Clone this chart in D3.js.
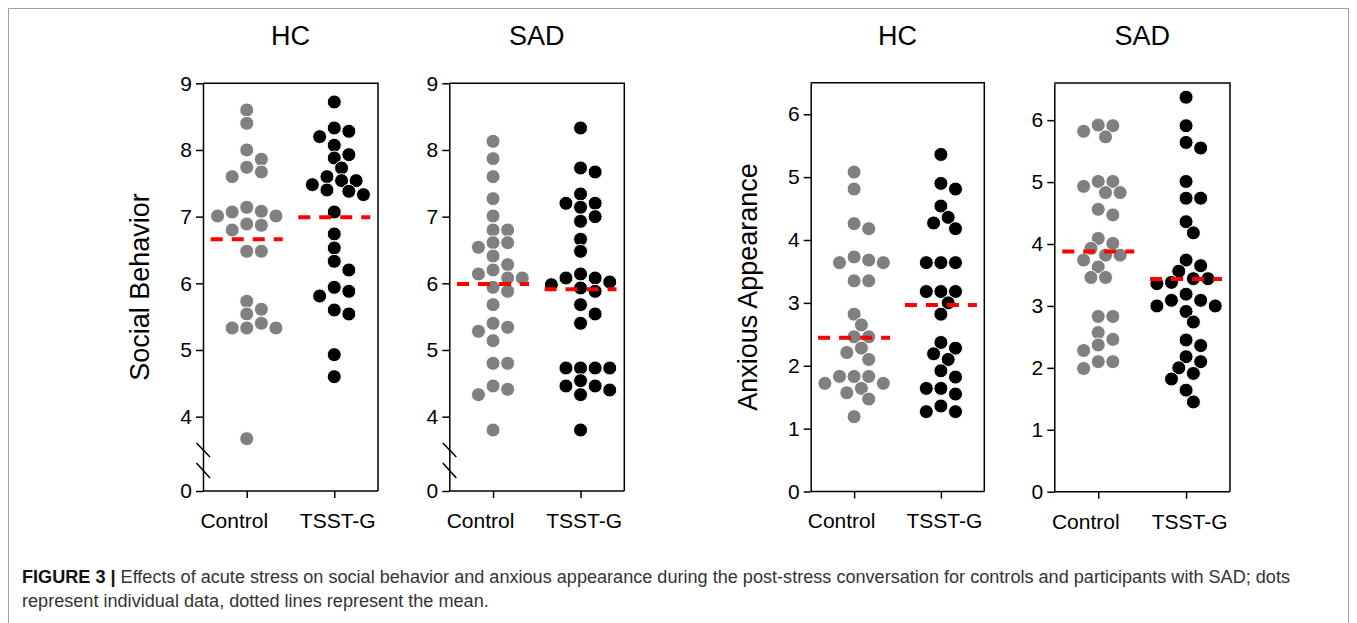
<!DOCTYPE html>
<html>
<head>
<meta charset="utf-8">
<script src="https://cdn.jsdelivr.net/npm/d3@7"></script>
<style>
  body { margin: 0; background: #fff; }
  svg { display: block; font-family: "Liberation Sans", Arial, sans-serif; }
  .axis path, .axis line { stroke: #000; stroke-width: 1.5; }
  .axis text { font-size: 21px; fill: #000; }
</style>
</head>
<body>
<svg id="chart" width="1357" height="623"></svg>
<script>
// category and panel labels
const groups = ["Control", "TSST-G"];
const panelTitles = ["HC", "SAD", "HC", "SAD"];
const measureTitles = ["Social Behavior", "Anxious Appearance"];

// Social behavior, individual values
const socialHcControl = [8.60, 8.40, 8.00, 7.86, 7.74, 7.67, 7.60, 7.14, 7.08, 7.07, 7.01, 7.01,
  6.89, 6.87, 6.80, 6.48, 6.48, 5.73, 5.61, 5.54, 5.40, 5.33, 5.33, 5.33, 3.67];
const socialHcTsst = [8.72, 8.33, 8.28, 8.20, 8.07, 7.93, 7.88, 7.73, 7.60, 7.54, 7.54, 7.48,
  7.40, 7.38, 7.33, 7.07, 6.74, 6.53, 6.33, 6.20, 5.94, 5.88, 5.81, 5.60, 5.54, 4.93, 4.60];
const socialSadControl = [8.13, 7.87, 7.60, 7.27, 7.01, 6.80, 6.80, 6.61, 6.61, 6.54, 6.41, 6.28,
  6.20, 6.14, 6.08, 6.08, 5.94, 5.88, 5.68, 5.40, 5.34, 5.28, 5.14, 4.80, 4.80, 4.46, 4.41, 4.33, 3.80];
const socialSadTsst = [8.33, 7.73, 7.67, 7.34, 7.20, 7.20, 7.14, 7.00, 6.93, 6.66, 6.48, 6.14,
  6.08, 6.08, 6.02, 5.98, 5.93, 5.88, 5.68, 5.54, 5.40, 4.73, 4.73, 4.73, 4.73, 4.54, 4.46, 4.46,
  4.40, 4.33, 3.80];

// Anxious appearance, individual values
const anxHcControl = [5.08, 4.81, 4.26, 4.18, 3.73, 3.68, 3.64, 3.64, 3.35, 3.35, 2.82, 2.65,
  2.46, 2.46, 2.28, 2.21, 2.10, 1.83, 1.83, 1.83, 1.72, 1.72, 1.64, 1.57, 1.47, 1.19];
const anxHcTsst = [5.36, 4.90, 4.81, 4.54, 4.36, 4.27, 4.18, 3.64, 3.64, 3.64, 3.18, 3.18, 3.18,
  3.00, 2.82, 2.37, 2.28, 2.19, 2.10, 1.92, 1.82, 1.64, 1.64, 1.55, 1.36, 1.27, 1.27];
const anxSadControl = [5.92, 5.91, 5.82, 5.73, 5.01, 5.01, 4.93, 4.83, 4.83, 4.56, 4.47, 4.09,
  4.01, 3.93, 3.82, 3.82, 3.74, 3.63, 3.46, 3.46, 2.83, 2.83, 2.57, 2.46, 2.37, 2.28, 2.10, 2.10, 1.99];
const anxSadTsst = [6.37, 5.91, 5.64, 5.55, 5.01, 4.74, 4.74, 4.36, 4.18, 3.74, 3.65, 3.56, 3.44,
  3.44, 3.38, 3.36, 3.19, 3.09, 3.09, 3.00, 3.00, 2.91, 2.74, 2.45, 2.36, 2.18, 2.10, 2.00, 1.91,
  1.82, 1.64, 1.45];

// group means (dashed lines)
const socialHcMeans = [6.66, 6.99];
const socialSadMeans = [5.99, 5.91];
const anxHcMeans = [2.445, 2.965];
const anxSadMeans = [3.877, 3.436];

// y tick values
const socialTicks = [0, 4, 5, 6, 7, 8, 9];
const anxTicks = [0, 1, 2, 3, 4, 5, 6];

const caption1 = " Effects of acute stress on social behavior and anxious appearance during the post-stress conversation for controls and participants with SAD; dots";
const caption2 = "represent individual data, dotted lines represent the mean.";

const svg = d3.select("#chart");
const colors = ["#808080", "#000000"];
const labelShift = [-13, 3]; // prism puts the category labels slightly off-centre
const plotTop = 83.3, plotBottom = 491;
const R = 7;

// broken axis for social behavior: 0 sits just below the break
const socialY = () => d3.scaleLinear().domain([0, 3.2, 9]).range([plotBottom, 470, plotTop]);

const panels = [
  {title: panelTitles[0], left: 203, right: 378, y: socialY(), ticks: socialTicks,
   data: [socialHcControl, socialHcTsst], means: socialHcMeans, brk: true},
  {title: panelTitles[1], left: 449.3, right: 624.3, y: socialY(), ticks: socialTicks,
   data: [socialSadControl, socialSadTsst], means: socialSadMeans, brk: true},
  {title: panelTitles[2], left: 810.7, right: 984.3,
   y: d3.scaleLinear().domain([0, 6.5]).range([491.5, 82.8]), ticks: anxTicks,
   data: [anxHcControl, anxHcTsst], means: anxHcMeans},
  {title: panelTitles[3], left: 1054.3, right: 1230,
   y: d3.scaleLinear().domain([0, 6.6]).range([491.7, 83]), ticks: anxTicks,
   data: [anxSadControl, anxSadTsst], means: anxSadMeans}
];

// simple greedy beeswarm: keep each dot as close to the centre as possible
function swarm(values, cx, y) {
  const step = 7.3, minD = 12;
  const pts = values.map(v => ({v, y: y(v)})).sort((a, b) => a.y - b.y);
  const placed = [];
  pts.forEach(p => {
    for (let k = 0; k < 40; k++) {
      const off = k === 0 ? 0 : (k % 2 ? 1 : -1) * Math.ceil(k / 2) * step;
      const ok = placed.every(q => (q.x - cx - off) ** 2 + (q.y - p.y) ** 2 >= minD * minD);
      if (ok) { p.x = cx + off; break; }
    }
    placed.push(p);
  });
  return placed;
}

// figure frame
svg.append("rect").attr("x", 8.5).attr("y", 8.5).attr("width", 1340).attr("height", 700)
  .attr("fill", "none").attr("stroke", "#a0a0a0").attr("stroke-width", 1);

panels.forEach(p => {
  const g = svg.append("g");
  const x = d3.scalePoint().domain(groups).range([p.left, p.right]).padding(0.5);
  const yBottom = p.y(0), yTop = p.y.range()[p.y.range().length - 1];

  // frame top and right
  g.append("path")
    .attr("d", `M${p.left},${yTop}H${p.right}V${yBottom}`)
    .attr("fill", "none").attr("stroke", "#000").attr("stroke-width", 1.5);

  g.append("g").attr("class", "axis")
    .attr("transform", `translate(${p.left},0)`)
    .call(d3.axisLeft(p.y).tickValues(p.ticks).tickFormat(d3.format("d"))
      .tickSize(7).tickSizeOuter(0).tickPadding(4));

  g.append("g").attr("class", "axis")
    .attr("transform", `translate(0,${yBottom})`)
    .call(d3.axisBottom(x).tickSize(7).tickSizeOuter(0).tickPadding(15))
    .call(a => a.select(".domain").attr("d", `M${p.left},0H${p.right}`))
    .call(a => a.selectAll(".tick text").attr("dx", (d, i) => labelShift[i]));

  if (p.brk) {
    [[443, 457], [463, 478]].forEach(([y0, y1]) => {
      g.append("line").attr("x1", p.left - 6.5).attr("x2", p.left + 7)
        .attr("y1", y0).attr("y2", y1).attr("stroke", "#000").attr("stroke-width", 1.5);
    });
  }

  g.append("text").attr("x", (p.left + p.right) / 2).attr("y", 45)
    .attr("text-anchor", "middle").attr("font-size", 27).text(p.title);

  p.data.forEach((vals, i) => {
    g.append("g").selectAll("circle")
      .data(swarm(vals, x(groups[i]), p.y))
      .join("circle")
        .attr("cx", d => d.x).attr("cy", d => d.y).attr("r", R)
        .attr("fill", colors[i]).attr("stroke", "#fff").attr("stroke-width", 1);
  });

  g.selectAll(".mean")
    .data(p.means)
    .join("line").attr("class", "mean")
      .attr("x1", (d, i) => x(groups[i]) - 36).attr("x2", (d, i) => x(groups[i]) + 36)
      .attr("y1", d => p.y(d)).attr("y2", d => p.y(d))
      .attr("stroke", "#ff0000").attr("stroke-width", 4).attr("stroke-dasharray", "12,9");
});

// y axis titles
[[149, measureTitles[0]], [757, measureTitles[1]]].forEach(([bx, t]) => {
  svg.append("text").attr("transform", `translate(${bx},287) rotate(-90)`)
    .attr("text-anchor", "middle").attr("font-size", 27).text(t);
});

// caption: the original uses a condensed face, so squeeze both lines by the same factor
const cap = svg.append("text").attr("x", 22).attr("y", 583).attr("font-size", 17.5).attr("fill", "#333");
cap.append("tspan").attr("font-weight", "bold").attr("fill", "#111").text("FIGURE 3 |");
cap.append("tspan").text(caption1);
const cap2 = svg.append("text").attr("x", 22).attr("y", 607).attr("font-size", 17.5).attr("fill", "#333")
  .text(caption2);
const squeeze = 1268 / cap.node().getComputedTextLength();
cap.attr("textLength", 1268).attr("lengthAdjust", "spacingAndGlyphs");
cap2.attr("textLength", cap2.node().getComputedTextLength() * squeeze).attr("lengthAdjust", "spacingAndGlyphs");
</script>
</body>
</html>
